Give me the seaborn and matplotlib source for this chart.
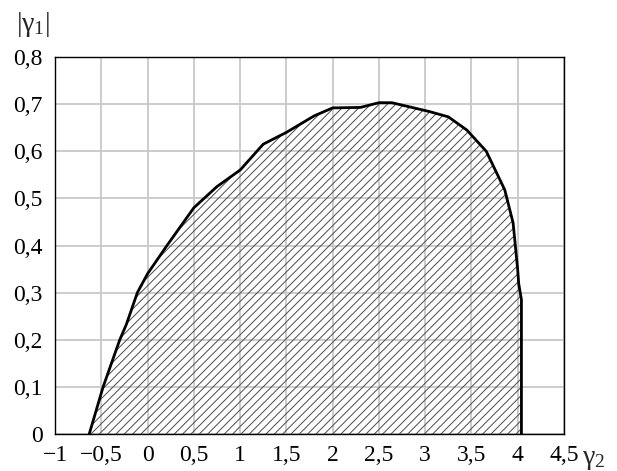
import matplotlib
matplotlib.use("Agg")
import matplotlib.pyplot as plt
import seaborn as sns
import pandas as pd

# Boundary of the admissible region in the (gamma2, |gamma1|) plane
gamma2 = [-0.63, -0.48, -0.30, -0.23, -0.11, 0.0, 0.21, 0.5, 0.75, 1.0,
          1.25, 1.5, 1.8, 2.0, 2.3, 2.5, 2.64, 3.05, 3.25, 3.45,
          3.66, 3.86, 3.95, 4.0, 4.01, 4.04, 4.04]
gamma1 = [0.0, 0.1, 0.2, 0.232, 0.3, 0.34, 0.4, 0.48, 0.525, 0.56,
          0.615, 0.64, 0.675, 0.692, 0.693, 0.703, 0.703, 0.684, 0.673, 0.645,
          0.60, 0.518, 0.448, 0.348, 0.32, 0.285, 0.0]

x_ticks = [-1, -0.5, 0, 0.5, 1, 1.5, 2, 2.5, 3, 3.5, 4, 4.5]
x_labels = ["\u22121", "\u22120,5", "0", "0,5", "1", "1,5", "2", "2,5",
            "3", "3,5", "4", "4,5"]
y_ticks = [0, 0.1, 0.2, 0.3, 0.4, 0.5, 0.6, 0.7, 0.8]
y_labels = ["0", "0,1", "0,2", "0,3", "0,4", "0,5", "0,6", "0,7", "0,8"]

sns.set_style("white")
plt.rcParams["font.family"] = ["Liberation Serif", "DejaVu Serif"]
plt.rcParams["mathtext.fontset"] = "custom"
plt.rcParams["mathtext.rm"] = "Liberation Serif"
plt.rcParams["mathtext.it"] = "Liberation Serif"
plt.rcParams["hatch.linewidth"] = 0.7

df = pd.DataFrame({"g2": gamma2, "g1": gamma1})

fig = plt.figure(figsize=(6.17, 4.71), dpi=100)
ax = fig.add_axes([55 / 617, 1 - 434 / 471, (564 - 55) / 617, (434 - 57) / 471])

# hatched region under the boundary
ax.fill(df["g2"], df["g1"], facecolor="none", edgecolor="#4a4a4a",
        hatch="////", linewidth=0, zorder=2)
sns.lineplot(data=df, x="g2", y="g1", sort=False, estimator=None,
             color="black", linewidth=2, ax=ax, zorder=3)

ax.set_xlim(-1, 4.5)
ax.set_ylim(0, 0.8)
ax.set_xticks(x_ticks)
ax.set_xticklabels(x_labels)
ax.set_yticks(y_ticks)
ax.set_yticklabels(y_labels)
ax.tick_params(axis="both", length=0, labelsize=17, colors="black")
ax.tick_params(axis="x", pad=8)
ax.tick_params(axis="y", pad=9)
ax.grid(True, color="#c8c8c8", linewidth=1.3)
ax.set_axisbelow(True)
for s in ax.spines.values():
    s.set_color("black")
    s.set_linewidth(1.0)
ax.set_xlabel("")
ax.set_ylabel("")

fig.text(16 / 617, 1 - 31 / 471, r"$|\gamma_1|$", fontsize=20,
         ha="left", va="baseline")
fig.text(582 / 617, 1 - 464 / 471, r"$\gamma_2$", fontsize=20,
         ha="left", va="baseline")

fig.savefig("out.png", dpi=100)
